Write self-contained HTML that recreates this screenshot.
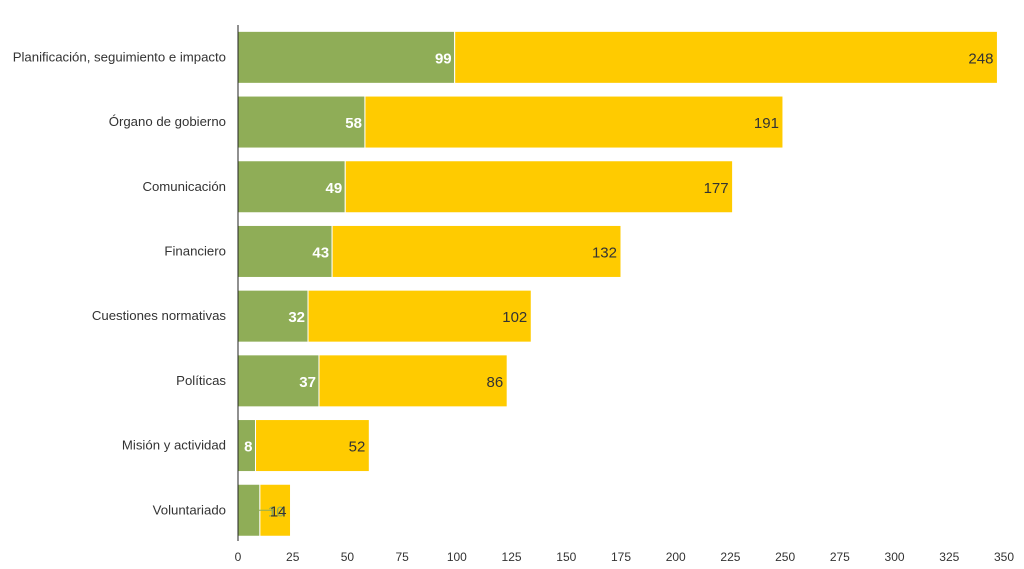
<!DOCTYPE html>
<html><head><meta charset="utf-8"><style>
body{margin:0;background:#fff;}
svg{display:block;font-family:"Liberation Sans",sans-serif;}
</style></head><body>
<svg id="chart" width="1024" height="569"></svg>
<script>
const categories=["Planificación, seguimiento e impacto","Órgano de gobierno","Comunicación","Financiero","Cuestiones normativas","Políticas","Misión y actividad","Voluntariado"];
const seriesA=[99,58,49,43,32,37,8,10];
const seriesB=[248,191,177,132,102,86,52,14];
const ticks=[0,25,50,75,100,125,150,175,200,225,250,275,300,325,350];
const NS="http://www.w3.org/2000/svg";
const svg=document.getElementById('chart');
const x0=238,x1=1004,xmax=350,top0=25,rowH=64.7,barH=52;
const xs=v=>x0+v/xmax*(x1-x0);
const yc=i=>top0+rowH*(i+0.5);
function mk(t,a){const e=document.createElementNS(NS,t);for(const k in a)e.setAttribute(k,a[k]);svg.appendChild(e);return e;}
ticks.forEach(t=>{
  const e=mk('text',{x:xs(t),y:561,'text-anchor':'middle','font-size':12,fill:'#333'});
  
  
  e.textContent=t;
});
categories.forEach((c,i)=>{
  const y=yc(i);
  const l=mk('text',{x:226,y:y+4,'text-anchor':'end','font-size':13.2,fill:'#333'});
  
  
  l.textContent=c;
  const a=mk('rect',{x:xs(0),y:y-barH/2,width:xs(seriesA[i])-xs(0),height:barH,fill:'#8fad57',stroke:'#fff','stroke-width':1});
  
  
  const b=mk('rect',{x:xs(seriesA[i]),y:y-barH/2,width:xs(seriesA[i]+seriesB[i])-xs(seriesA[i]),height:barH,fill:'#ffcb00',stroke:'#fff','stroke-width':1});
  
  
  let ta;
  if(seriesA[i]>=10 && seriesA[i]<15){
    mk('line',{x1:xs(seriesA[i])-4,y1:y,x2:xs(seriesA[i])+12,y2:y,stroke:'#8fad57'});
    ta=mk('text',{x:xs(seriesA[i])+8,y:y+6,'font-size':15,fill:'#8fad57'});
  } else {
    ta=mk('text',{x:xs(seriesA[i])-3,y:y+6,'text-anchor':'end','font-size':15,'font-weight':'bold',fill:'#fff'});
  }
  
  
  ta.textContent=seriesA[i];
  const tb=mk('text',{x:xs(seriesA[i]+seriesB[i])-4,y:y+6,'text-anchor':'end','font-size':15,fill:'#333'});
  
  
  tb.textContent=seriesB[i];
});
const ax=mk('line',{x1:x0,y1:top0,x2:x0,y2:541,stroke:'#222','stroke-width':1});


</script>
</body></html>
